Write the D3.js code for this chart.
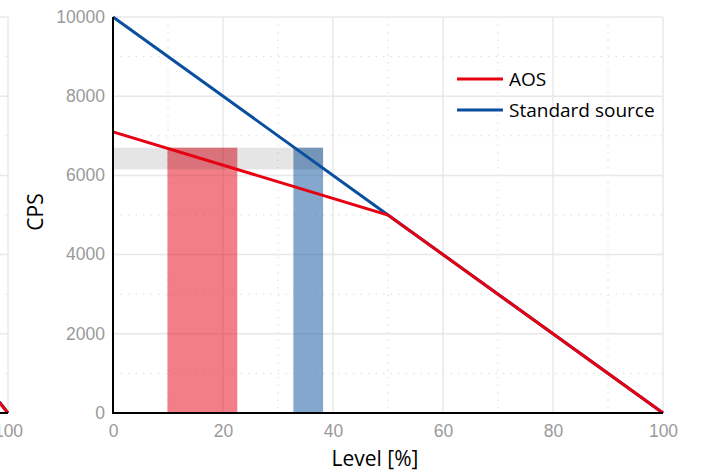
<!DOCTYPE html>
<html>
<head>
<meta charset="utf-8">
<script src="https://cdn.jsdelivr.net/npm/d3@7/dist/d3.min.js"></script>
<style>
  html, body { margin: 0; padding: 0; background: #fff; overflow: hidden; }
  svg { display: block; font-family: "Open Sans", "Noto Sans", sans-serif; }
</style>
</head>
<body>
<svg id="chart" width="706" height="471"></svg>
<script>
// Count rate versus level: AOS compared with a standard source
const xMajorTicks = [0, 20, 40, 60, 80, 100];
const xMinorTicks = [10, 30, 50, 70, 90];
const yMajorTicks = [0, 2000, 4000, 6000, 8000, 10000];
const yMinorTicks = [1000, 3000, 5000, 7000, 9000];

const seriesNames = ["AOS", "Standard source"];
const seriesColors = ["#e60012", "#0a4f9e"];

// [level %, CPS]
const aosPoints = [[0, 7100], [50, 5000], [100, 0]];
const standardPoints = [[0, 10000], [50, 5000], [100, 0]];

// CPS window and the level ranges each source gives inside it
const cpsBand = [6150, 6700];
const aosLevelRange = [9.9, 22.6];
const standardLevelRange = [32.8, 38.2];

// neighbouring panel, only its right end falls inside the frame
const neighbourAos = [[50, 8600], [100, 0]];
const neighbourStandard = [[50, 8900], [100, 0]];
const neighbourXTicks = [100];

const svg = d3.select("#chart");
const plotLeft = 113, plotRight = 663, plotTop = 17, plotBottom = 413;
const panelGap = 655;
const tickFont = 17.5;

const y = d3.scaleLinear().domain([0, 10000]).range([plotBottom, plotTop]);

function drawGrid(g, x) {
  const grid = g.append("g");
  grid.selectAll(".vmin").data(xMinorTicks).join("line")
    .attr("x1", d => x(d)).attr("x2", d => x(d))
    .attr("y1", plotTop).attr("y2", plotBottom)
    .attr("stroke", "#dcdcdc").attr("stroke-width", 1).attr("stroke-dasharray", "1.5,6");
  grid.selectAll(".hmin").data(yMinorTicks).join("line")
    .attr("x1", x(0)).attr("x2", x(100))
    .attr("y1", d => y(d)).attr("y2", d => y(d))
    .attr("stroke", "#dcdcdc").attr("stroke-width", 1).attr("stroke-dasharray", "1.5,6");
  grid.selectAll(".vmaj").data(xMajorTicks).join("line")
    .attr("x1", d => x(d)).attr("x2", d => x(d))
    .attr("y1", plotTop).attr("y2", plotBottom)
    .attr("stroke", "#e8e8e8").attr("stroke-width", 1.5);
  grid.selectAll(".hmaj").data(yMajorTicks).join("line")
    .attr("x1", x(0)).attr("x2", x(100))
    .attr("y1", d => y(d)).attr("y2", d => y(d))
    .attr("stroke", "#e8e8e8").attr("stroke-width", 1.5);
}

function drawXLabels(g, x, ticks) {
  const xAxis = d3.axisBottom(x).tickValues(ticks).tickSize(0).tickPadding(12).tickFormat(d3.format("d"));
  const gx = g.append("g").attr("transform", `translate(0,${plotBottom})`).call(xAxis);
  gx.select(".domain").remove();
  gx.selectAll("text").attr("fill", "#9a9a9a").attr("font-size", tickFont);
}

// neighbouring panel to the left
const xN = d3.scaleLinear().domain([0, 100]).range([plotLeft - panelGap, plotRight - panelGap]);
const gN = svg.append("g");
drawGrid(gN, xN);
drawXLabels(gN, xN, neighbourXTicks);
const lineN = d3.line().x(d => xN(d[0])).y(d => y(d[1]));
gN.append("path").datum(neighbourStandard).attr("d", lineN)
  .attr("fill", "none").attr("stroke", seriesColors[1]).attr("stroke-width", 3);
gN.append("path").datum(neighbourAos).attr("d", lineN)
  .attr("fill", "none").attr("stroke", seriesColors[0]).attr("stroke-width", 3);
gN.append("line").attr("x1", xN(0)).attr("x2", xN(100))
  .attr("y1", plotBottom).attr("y2", plotBottom).attr("stroke", "#000").attr("stroke-width", 2);

// main panel
const x = d3.scaleLinear().domain([0, 100]).range([plotLeft, plotRight]);
const g = svg.append("g");
drawGrid(g, x);
drawXLabels(g, x, xMajorTicks);

const yAxis = d3.axisLeft(y).tickValues(yMajorTicks).tickSize(0).tickPadding(8).tickFormat(d3.format("d"));
const gy = g.append("g").attr("transform", `translate(${x(0)},0)`).call(yAxis);
gy.select(".domain").remove();
gy.selectAll("text").attr("fill", "#9a9a9a").attr("font-size", tickFont).attr("dy", "0.3em");

// level ranges as translucent bars
g.append("rect")
  .attr("x", x(aosLevelRange[0])).attr("width", x(aosLevelRange[1]) - x(aosLevelRange[0]))
  .attr("y", y(cpsBand[1])).attr("height", y(0) - y(cpsBand[1]))
  .attr("fill", seriesColors[0]).attr("fill-opacity", 0.5);
g.append("rect")
  .attr("x", x(standardLevelRange[0])).attr("width", x(standardLevelRange[1]) - x(standardLevelRange[0]))
  .attr("y", y(cpsBand[1])).attr("height", y(0) - y(cpsBand[1]))
  .attr("fill", seriesColors[1]).attr("fill-opacity", 0.5);

// CPS window
g.append("rect")
  .attr("x", x(0)).attr("width", x(standardLevelRange[1]) - x(0))
  .attr("y", y(cpsBand[1])).attr("height", y(cpsBand[0]) - y(cpsBand[1]))
  .attr("fill", "#000").attr("fill-opacity", 0.1);

const line = d3.line().x(d => x(d[0])).y(d => y(d[1]));
g.append("path").datum(standardPoints).attr("d", line)
  .attr("fill", "none").attr("stroke", seriesColors[1]).attr("stroke-width", 3);
g.append("path").datum(aosPoints).attr("d", line)
  .attr("fill", "none").attr("stroke", seriesColors[0]).attr("stroke-width", 3);

// axis lines
g.append("line").attr("x1", x(0)).attr("x2", x(0))
  .attr("y1", plotTop).attr("y2", plotBottom).attr("stroke", "#000").attr("stroke-width", 2);
g.append("line").attr("x1", x(0) - 1).attr("x2", x(100))
  .attr("y1", plotBottom).attr("y2", plotBottom).attr("stroke", "#000").attr("stroke-width", 2);

// axis titles
svg.append("text").attr("x", 375).attr("y", 466).attr("text-anchor", "middle")
  .attr("font-size", 21).attr("font-weight", 500).attr("fill", "#000").text("Level [%]");
svg.append("text").attr("transform", "translate(43,212) rotate(-90)").attr("text-anchor", "middle")
  .attr("font-size", 21).attr("font-weight", 500).attr("fill", "#000").text("CPS");

// legend
const legend = svg.append("g").attr("transform", "translate(457,79)");
seriesNames.forEach((name, i) => {
  const row = legend.append("g").attr("transform", `translate(0,${i * 31})`);
  row.append("line").attr("x1", 0).attr("x2", 46).attr("y1", 0).attr("y2", 0)
    .attr("stroke", seriesColors[i]).attr("stroke-width", 3);
  row.append("text").attr("x", 52).attr("y", 0).attr("dy", "0.35em")
    .attr("font-size", 19).attr("fill", "#000").text(name);
});
</script>
</body>
</html>
